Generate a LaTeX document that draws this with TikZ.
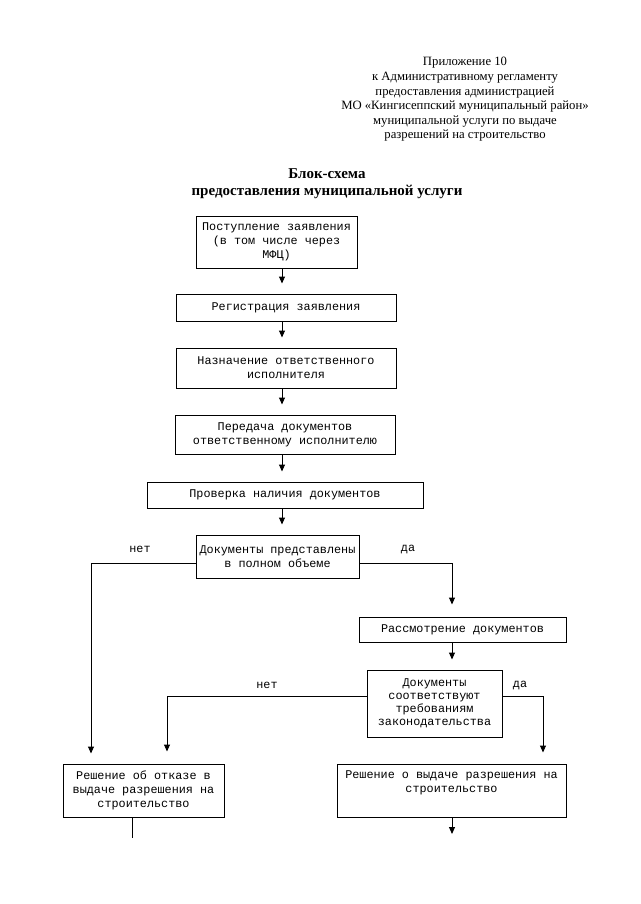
\documentclass[tikz,border=0pt]{standalone}
\usepackage{fontspec}
\setmainfont{Liberation Serif}
\newfontfamily\monofont{Liberation Mono}
\usetikzlibrary{arrows.meta}
\begin{document}
\begin{tikzpicture}[x=1pt,y=-1pt,
  box/.style={draw,line width=1pt,inner sep=0pt,align=center,
    font=\monofont\fontsize{11.8}{14}\selectfont},
  lbl/.style={inner sep=0pt,font=\monofont\fontsize{11.8}{14}\selectfont},
  arr/.style={line width=1pt,-{Triangle[width=6pt,length=7pt]},shorten >=10pt},
  conn/.style={line width=1pt}]
\useasboundingbox (0,0) rectangle (640,904);
\fill[white] (0,0) rectangle (640,904);

\node[align=center,inner sep=0pt,font=\fontsize{12.7}{14.6}\selectfont] (hdr) at (465,99.5)
  {Приложение 10\\к Административному регламенту\\предоставления администрацией\\МО «Кингисеппский муниципальный район»\\муниципальной услуги по выдаче\\разрешений на строительство};
\node[align=center,inner sep=0pt,font=\bfseries\fontsize{15}{17}\selectfont] (title) at (327,183.5)
  {Блок-схема\\предоставления муниципальной услуги};

\node[box,minimum width=161pt,minimum height=52pt] (b1) at (276.5,242)
  {Поступление заявления\\(в том числе через\\МФЦ)};
\node[box,minimum width=220pt,minimum height=27pt] (b2) at (286,307.5)
  {Регистрация заявления};
\node[box,minimum width=220pt,minimum height=40pt] (b3) at (286,368)
  {Назначение ответственного\\исполнителя};
\node[box,minimum width=220pt,minimum height=39pt] (b4) at (285,434.5)
  {Передача документов\\ответственному исполнителю};
\node[box,minimum width=276pt,minimum height=26pt] (b5) at (285,495)
  {Проверка наличия документов};
\node[box,minimum width=163pt,minimum height=43pt] (b6) at (277.5,556.5)
  {Документы представлены\\в полном объеме};
\node[box,minimum width=207pt,minimum height=25pt] (b7) at (462.5,629.5)
  {Рассмотрение документов};
\node[box,minimum width=135pt,minimum height=67pt,
  font=\monofont\fontsize{11.8}{13}\selectfont] (b8) at (434.5,703.5)
  {Документы\\соответствуют\\требованиям\\законодательства};
\node[box,minimum width=161pt,minimum height=53pt] (b9) at (143.5,790.5)
  {Решение об отказе в\\выдаче разрешения на\\строительство};
\node[box,minimum width=229pt,minimum height=53pt] (b10) at (451.5,790.5)
  {Решение о выдаче разрешения на\\строительство\\\strut};

\coordinate (ax) at (282,0);
\coordinate (lx) at (91,0);
\coordinate (rx) at (452,0);
\coordinate (l2) at (167,0);
\coordinate (r2) at (543,0);
\coordinate (e10) at (452,834);
\coordinate (e9) at (132,838);

\draw[arr] (b1.south -| ax) -- (b2.north -| ax);
\draw[arr] (b2.south -| ax) -- (b3.north -| ax);
\draw[arr] (b3.south -| ax) -- (b4.north -| ax);
\draw[arr] (b4.south -| ax) -- (b5.north -| ax);
\draw[arr] (b5.south -| ax) -- (b6.north -| ax);
\draw[arr] ([yshift=-6.5pt]b6.west) -| (lx |- b9.north);
\draw[arr,shorten >=12pt] ([yshift=-6.5pt]b6.east) -| (rx |- b7.north);
\draw[arr] (b7.south -| rx) -- (b8.north -| rx);
\draw[arr,shorten >=12pt] ([yshift=7.5pt]b8.west) -| (l2 |- b9.north);
\draw[arr,shorten >=11pt] ([yshift=7.5pt]b8.east) -| (r2 |- b10.north);
\draw[arr,shorten >=0pt] (b10.south -| rx) -- (e10);
\draw[conn] (b9.south -| e9) -- (e9);

\node[lbl] (n1) at (140,549) {нет};
\node[lbl] (y1) at (408,549) {да};
\node[lbl] (n2) at (267,685) {нет};
\node[lbl] (y2) at (520,685) {да};
\end{tikzpicture}
\end{document}
